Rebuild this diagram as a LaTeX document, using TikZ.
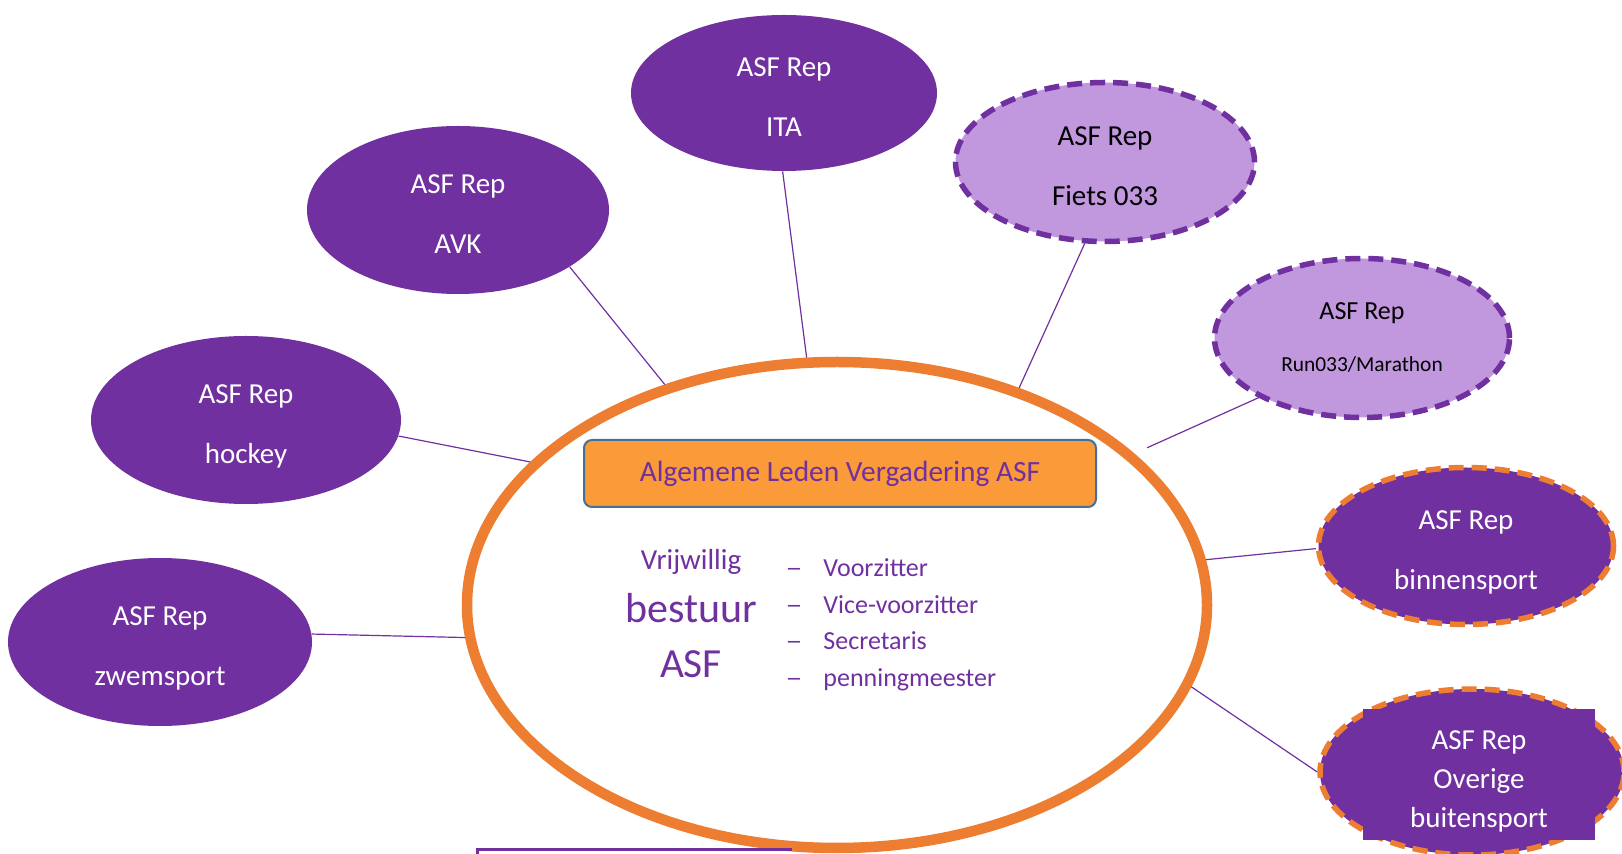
\documentclass[tikz,border=0pt]{standalone}
\usepackage{fontspec}
\setmainfont{Carlito}
\usetikzlibrary{shapes.geometric}

\definecolor{asfpurple}{RGB}{112,48,160}
\definecolor{asflilac}{RGB}{193,151,222}
\definecolor{asforange}{RGB}{237,125,49}
\definecolor{boxorange}{RGB}{250,154,56}
\definecolor{boxblue}{RGB}{65,113,156}

\tikzset{
	rep/.style={ellipse, fill=asfpurple, text=white, inner sep=0pt, align=center,
		font=\fontsize{14.5}{30}\selectfont, text height=47pt, text depth=3pt},
	replight/.style={rep, fill=asflilac, text=black, draw=asfpurple, line width=2.75pt,
		dash pattern=on 7.5pt off 4pt},
	repdash/.style={rep, draw=asforange, line width=2.75pt, dash pattern=on 7.5pt off 4pt},
	alvring/.style={ellipse, draw=asforange, line width=5.25pt, inner sep=0pt,
		minimum width=370pt, minimum height=243pt},
	titlebox/.style={rectangle, rounded corners=4pt, fill=boxorange, draw=boxblue,
		line width=1pt, minimum width=256pt, minimum height=33.5pt, text=asfpurple,
		font=\fontsize{14.7}{17}\selectfont},
	link/.style={draw=asfpurple, line width=0.6pt},
	board/.style={text=asfpurple, anchor=base, inner sep=0pt},
	listitem/.style={text=asfpurple, anchor=base west, inner sep=0pt, font=\fontsize{13}{15}\selectfont},
}

\begin{document}
\begin{tikzpicture}[x=0.5pt,y=-0.5pt]
	\useasboundingbox (0,0) rectangle (1622,854);
	
	% centre ring
	\node[alvring] (alv) at (837,605) {};
	\node[titlebox] (title) at (840,473.5) {Algemene Leden Vergadering ASF};
	
	\node[board, font=\fontsize{14.5}{17}\selectfont] (vrij) at (691,570) {Vrijwillig};
	\node[board, font=\fontsize{21}{25}\selectfont] (bestuur) at (691,623) {bestuur};
	\node[board, font=\fontsize{20.7}{25}\selectfont] (asf) at (691,678) {ASF};
	
	\foreach \yy/\txt in {577/Voorzitter, 613.5/Vice-voorzitter, 650/Secretaris, 686.5/penningmeester}{
		\node[board, font=\fontsize{13}{13}\selectfont\addfontfeature{FakeStretch=1.3}] at (794,\yy) {--};
		\node[listitem] at (823,\yy) {\txt};
	}
	
	% reps
	\node[rep, minimum width=153pt, minimum height=78pt] (ita) at (784,93) {ASF Rep\\ITA};
	\node[rep, minimum width=151pt, minimum height=84pt] (avk) at (458,210) {ASF Rep\\AVK};
	\node[rep, minimum width=155pt, minimum height=84pt] (hockey) at (246,420) {ASF Rep\\hockey};
	\node[rep, minimum width=152pt, minimum height=84pt] (zwem) at (160,642) {ASF Rep\\zwemsport};
	\node[replight, minimum width=149.5pt, minimum height=79.5pt] (fiets) at (1105,162) {ASF Rep\\Fiets 033};
	\node[replight, minimum width=147.5pt, minimum height=79.5pt,
		font=\fontsize{13}{26}\selectfont, text height=34.5pt, text depth=1.4pt] (run) at (1362,338)
		{ASF Rep\\{\fontsize{10.7}{26}\selectfont Run033/Marathon}};
	\node[repdash, minimum width=147.5pt, minimum height=78.5pt] (binnen) at (1466,546) {ASF Rep\\binnensport};
	\node[repdash, minimum width=152pt, minimum height=83pt] (overige) at (1472,772) {};
	
	% text box over the last ellipse
	\fill[asfpurple] (1363,709) rectangle (1595,840);
	\node[rep, fill=none, font=\fontsize{14.5}{19.5}\selectfont, text height=48.3pt, text depth=0pt]
		(overigetxt) at (1479,779) {ASF Rep\\Overige\\buitensport};
	
	% links
	\draw[link] (ita.-91) -- (alv.97);
	\draw[link] (avk.-27) -- (alv.128);
	\draw[link] (hockey.-6) -- (alv.155);
	\draw[link] (zwem.3) -- (alv.185);
	\draw[link] (fiets.-104) -- (alv.50);
	\draw[link, shorten >=7pt] (run.-150) -- (alv.27);
	\draw[link] (binnen.181) -- (alv.7);
	\draw[link] (overige.180) -- (alv.-13);
	
	% box cut off at the bottom
	\draw[asfpurple, line width=1.5pt] (477,860) -- (477,849) -- (792,849);
\end{tikzpicture}
\end{document}
